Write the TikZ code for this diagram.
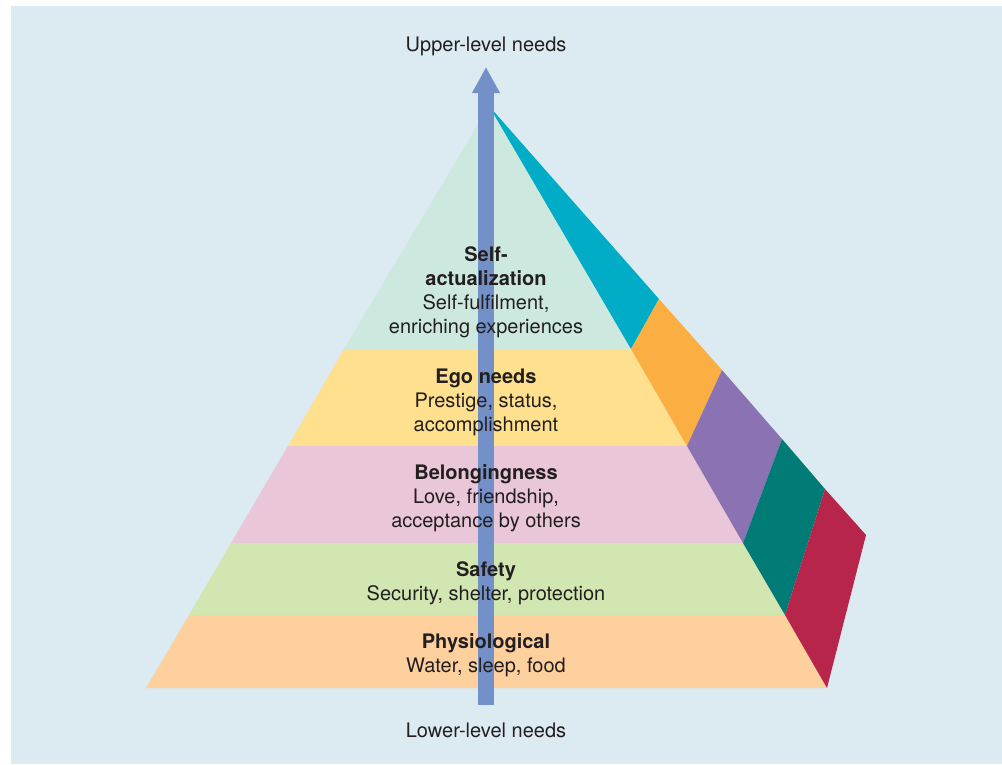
\documentclass[tikz,border=0pt]{standalone}
\usepackage{fontspec}
\setmainfont{TeX Gyre Heros}
\usetikzlibrary{arrows.meta, positioning}

\definecolor{panelblue}{HTML}{DCEAF1}
\definecolor{inkdark}{HTML}{231F20}
\definecolor{mintpale}{HTML}{CCE8DF}
\definecolor{yellowpale}{HTML}{FFE08E}
\definecolor{pinkpale}{HTML}{E9C6D8}
\definecolor{greenpale}{HTML}{D1E6B0}
\definecolor{peachpale}{HTML}{FDD09E}
\definecolor{sidecyan}{HTML}{00ACC6}
\definecolor{sideorange}{HTML}{FBAF42}
\definecolor{sidepurple}{HTML}{8B73B3}
\definecolor{sideteal}{HTML}{007B76}
\definecolor{sidered}{HTML}{B7264A}
\definecolor{arrowblue}{HTML}{7390C8}

\begin{document}
\begin{tikzpicture}[x=1pt, y=-1pt]
	\tikzset{tier/.style={draw=none}, label text/.style={font=\fontsize{20}{24}\selectfont, text=inkdark, align=center, inner sep=0pt}, needs arrow/.style={draw=arrowblue, line width=16pt, -{Triangle[length=26pt, width=26pt]}}}
	
	\useasboundingbox (0,0) rectangle (1002,764);
	\fill[panelblue] (11,6) rectangle (1002,764);
	
	% front of the pyramid
	\coordinate (apex) at (489,106);
	\coordinate (L1) at (344,349); \coordinate (R1) at (631,349);
	\coordinate (L2) at (288,446); \coordinate (R2) at (687,446);
	\coordinate (L3) at (231,543); \coordinate (R3) at (743,543);
	\coordinate (L4) at (189,615); \coordinate (R4) at (785,615);
	\coordinate (L5) at (146,688); \coordinate (R5) at (827,688);
	
	% outer edge of the side face
	\coordinate (O1) at (659,299);
	\coordinate (O2) at (722,370);
	\coordinate (O3) at (782,439);
	\coordinate (O4) at (825,489);
	\coordinate (O5) at (866,535);
	
	\fill[tier, mintpale] (apex) -- (R1) -- (L1) -- cycle;
	\fill[tier, yellowpale] (L1) -- (R1) -- (R2) -- (L2) -- cycle;
	\fill[tier, pinkpale] (L2) -- (R2) -- (R3) -- (L3) -- cycle;
	\fill[tier, greenpale] (L3) -- (R3) -- (R4) -- (L4) -- cycle;
	\fill[tier, peachpale] (L4) -- (R4) -- (R5) -- (L5) -- cycle;
	
	\fill[tier, sidecyan] (apex) -- (O1) -- (R1) -- cycle;
	\fill[tier, sideorange] (R1) -- (O1) -- (O2) -- (R2) -- cycle;
	\fill[tier, sidepurple] (R2) -- (O2) -- (O3) -- (R3) -- cycle;
	\fill[tier, sideteal] (R3) -- (O3) -- (O4) -- (R4) -- cycle;
	\fill[tier, sidered] (R4) -- (O4) -- (O5) -- (R5) -- cycle;
	
	\coordinate (arrowlow) at (486,705);
	\coordinate (arrowhigh) at (486,67);
	\draw[needs arrow] (arrowlow) -- (arrowhigh);
	
	\node[label text] (upper) at (486,46) {Upper-level needs};
	\node[label text] (lower) at (486,730) {Lower-level needs};
	
	\node[label text] (selfact) at (486,292) {\textbf{Self-}\\\textbf{actualization}\\Self-fulfilment,\\enriching experiences};
	\node[label text] (ego) at (486,402) {\textbf{Ego needs}\\Prestige, status,\\accomplishment};
	\node[label text] (belong) at (486,498) {\textbf{Belongingness}\\Love, friendship,\\acceptance by others};
	\node[label text] (safety) at (486,583) {\textbf{Safety}\\Security, shelter, protection};
	\node[label text] (physio) at (486,655) {\textbf{Physiological}\\Water, sleep, food};
\end{tikzpicture}
\end{document}
